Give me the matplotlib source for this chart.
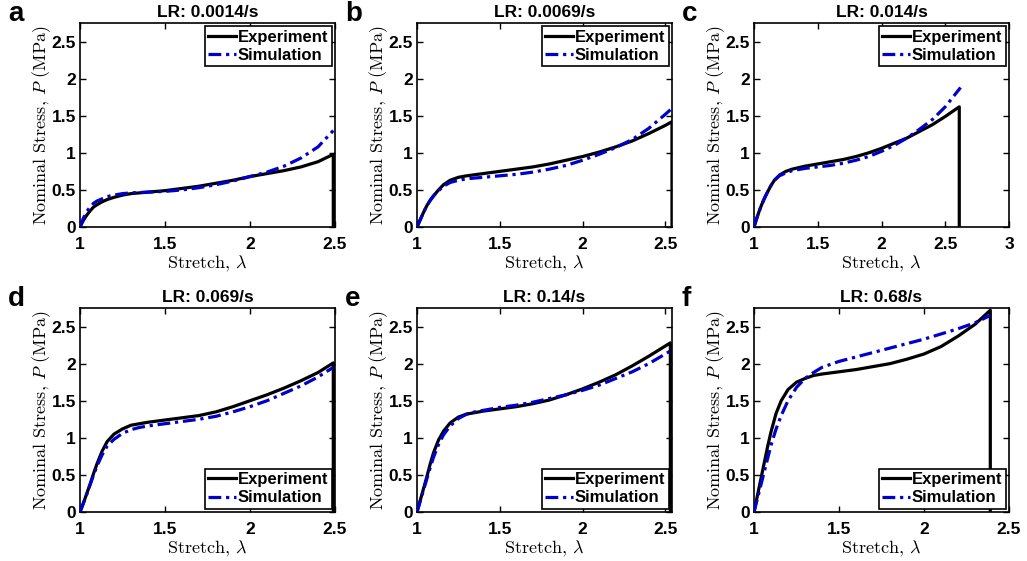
import matplotlib
matplotlib.use('Agg')
import matplotlib.pyplot as plt
import numpy as np

plt.rcParams['font.family'] = ['Liberation Sans', 'DejaVu Sans']
plt.rcParams['font.weight'] = 'bold'
plt.rcParams['mathtext.fontset'] = 'cm'

# panel info
letters = ['a', 'b', 'c', 'd', 'e', 'f']
rates = ['LR: 0.0014/s', 'LR: 0.0069/s', 'LR: 0.014/s', 'LR: 0.069/s', 'LR: 0.14/s', 'LR: 0.68/s']
xmax = [2.5, 2.54, 3.0, 2.5, 2.54, 2.5]
legend_loc = ['upper right'] * 3 + ['lower right'] * 3

# experiment curves (stretch, nominal stress)
exp_a_x = [1.0, 1.02, 1.04, 1.06, 1.08, 1.1, 1.13, 1.16, 1.2, 1.25, 1.3, 1.4, 1.5, 1.6, 1.7, 1.8, 1.9, 2.0, 2.1, 2.2, 2.3, 2.4, 2.49, 2.49]
exp_a_y = [0.0, 0.09, 0.16, 0.22, 0.27, 0.3, 0.34, 0.37, 0.4, 0.43, 0.45, 0.47, 0.49, 0.52, 0.55, 0.59, 0.63, 0.68, 0.72, 0.76, 0.81, 0.88, 0.98, 0.0]
exp_b_x = [1.0, 1.02, 1.04, 1.06, 1.08, 1.1, 1.13, 1.16, 1.2, 1.25, 1.3, 1.4, 1.5, 1.6, 1.7, 1.8, 1.9, 2.0, 2.1, 2.2, 2.3, 2.4, 2.5, 2.54, 2.54]
exp_b_y = [0.0, 0.1, 0.2, 0.29, 0.36, 0.42, 0.5, 0.57, 0.63, 0.67, 0.69, 0.72, 0.75, 0.78, 0.81, 0.85, 0.9, 0.95, 1.01, 1.08, 1.16, 1.26, 1.37, 1.42, 0.0]
exp_c_x = [1.0, 1.02, 1.04, 1.06, 1.08, 1.1, 1.13, 1.16, 1.2, 1.25, 1.3, 1.4, 1.5, 1.6, 1.7, 1.8, 1.9, 2.0, 2.1, 2.2, 2.3, 2.4, 2.5, 2.61, 2.61]
exp_c_y = [0.0, 0.11, 0.21, 0.3, 0.38, 0.45, 0.55, 0.63, 0.7, 0.75, 0.78, 0.82, 0.85, 0.88, 0.91, 0.95, 1.0, 1.06, 1.13, 1.2, 1.29, 1.38, 1.49, 1.62, 0.0]
exp_d_x = [1.0, 1.02, 1.04, 1.06, 1.08, 1.1, 1.13, 1.16, 1.2, 1.25, 1.3, 1.35, 1.4, 1.5, 1.6, 1.7, 1.8, 1.9, 2.0, 2.1, 2.2, 2.3, 2.4, 2.49, 2.49]
exp_d_y = [0.0, 0.12, 0.25, 0.38, 0.52, 0.65, 0.82, 0.95, 1.05, 1.12, 1.17, 1.19, 1.21, 1.24, 1.27, 1.3, 1.35, 1.42, 1.5, 1.58, 1.67, 1.77, 1.88, 2.01, 0.0]
exp_e_x = [1.0, 1.02, 1.04, 1.06, 1.08, 1.1, 1.13, 1.16, 1.2, 1.25, 1.3, 1.35, 1.4, 1.5, 1.6, 1.7, 1.8, 1.9, 2.0, 2.1, 2.2, 2.3, 2.4, 2.53, 2.53]
exp_e_y = [0.0, 0.16, 0.32, 0.48, 0.65, 0.8, 0.97, 1.09, 1.2, 1.28, 1.32, 1.34, 1.36, 1.39, 1.42, 1.46, 1.51, 1.58, 1.66, 1.75, 1.85, 1.97, 2.1, 2.28, 0.0]
exp_f_x = [1.0, 1.02, 1.04, 1.06, 1.08, 1.1, 1.13, 1.16, 1.2, 1.25, 1.3, 1.35, 1.4, 1.5, 1.6, 1.7, 1.8, 1.9, 2.0, 2.1, 2.2, 2.3, 2.39, 2.39]
exp_f_y = [0.0, 0.22, 0.44, 0.66, 0.88, 1.08, 1.33, 1.5, 1.65, 1.75, 1.8, 1.84, 1.86, 1.89, 1.92, 1.96, 2.0, 2.06, 2.13, 2.23, 2.37, 2.53, 2.72, 0.0]

# simulation curves
sim_a_x = [1.0, 1.02, 1.04, 1.06, 1.08, 1.1, 1.13, 1.16, 1.2, 1.25, 1.3, 1.4, 1.5, 1.6, 1.7, 1.8, 1.9, 2.0, 2.1, 2.2, 2.3, 2.4, 2.49]
sim_a_y = [0.0, 0.12, 0.21, 0.27, 0.32, 0.35, 0.38, 0.41, 0.43, 0.45, 0.46, 0.47, 0.48, 0.5, 0.53, 0.57, 0.62, 0.68, 0.74, 0.82, 0.93, 1.08, 1.3]
sim_b_x = [1.0, 1.02, 1.04, 1.06, 1.08, 1.1, 1.13, 1.16, 1.2, 1.25, 1.3, 1.4, 1.5, 1.6, 1.7, 1.8, 1.9, 2.0, 2.1, 2.2, 2.3, 2.4, 2.5, 2.55]
sim_b_y = [0.0, 0.1, 0.2, 0.29, 0.36, 0.42, 0.49, 0.55, 0.6, 0.63, 0.65, 0.67, 0.69, 0.71, 0.74, 0.78, 0.83, 0.9, 0.98, 1.07, 1.18, 1.33, 1.52, 1.62]
sim_c_x = [1.0, 1.02, 1.04, 1.06, 1.08, 1.1, 1.13, 1.16, 1.2, 1.25, 1.3, 1.4, 1.5, 1.6, 1.7, 1.8, 1.9, 2.0, 2.1, 2.2, 2.3, 2.4, 2.5, 2.62]
sim_c_y = [0.0, 0.11, 0.21, 0.3, 0.38, 0.45, 0.55, 0.63, 0.69, 0.73, 0.76, 0.79, 0.81, 0.83, 0.86, 0.9, 0.95, 1.02, 1.1, 1.2, 1.32, 1.45, 1.62, 1.88]
sim_d_x = [1.0, 1.02, 1.04, 1.06, 1.08, 1.1, 1.13, 1.16, 1.2, 1.25, 1.3, 1.35, 1.4, 1.5, 1.6, 1.7, 1.8, 1.9, 2.0, 2.1, 2.2, 2.3, 2.4, 2.49]
sim_d_y = [0.0, 0.12, 0.24, 0.37, 0.5, 0.62, 0.77, 0.89, 0.98, 1.06, 1.11, 1.14, 1.16, 1.19, 1.22, 1.25, 1.29, 1.35, 1.42, 1.5, 1.6, 1.7, 1.82, 1.95]
sim_e_x = [1.0, 1.02, 1.04, 1.06, 1.08, 1.1, 1.13, 1.16, 1.2, 1.25, 1.3, 1.35, 1.4, 1.5, 1.6, 1.7, 1.8, 1.9, 2.0, 2.1, 2.2, 2.3, 2.4, 2.53]
sim_e_y = [0.0, 0.15, 0.3, 0.45, 0.6, 0.74, 0.91, 1.04, 1.16, 1.26, 1.32, 1.35, 1.37, 1.41, 1.44, 1.48, 1.53, 1.58, 1.64, 1.71, 1.8, 1.89, 2.0, 2.17]
sim_f_x = [1.0, 1.02, 1.04, 1.06, 1.08, 1.1, 1.13, 1.16, 1.2, 1.25, 1.3, 1.35, 1.4, 1.5, 1.6, 1.7, 1.8, 1.9, 2.0, 2.1, 2.2, 2.3, 2.39]
sim_f_y = [0.0, 0.18, 0.36, 0.54, 0.72, 0.9, 1.12, 1.3, 1.5, 1.68, 1.8, 1.88, 1.95, 2.03, 2.09, 2.15, 2.21, 2.27, 2.33, 2.4, 2.47, 2.55, 2.65]

exp_x = [exp_a_x, exp_b_x, exp_c_x, exp_d_x, exp_e_x, exp_f_x]
exp_y = [exp_a_y, exp_b_y, exp_c_y, exp_d_y, exp_e_y, exp_f_y]
sim_x = [sim_a_x, sim_b_x, sim_c_x, sim_d_x, sim_e_x, sim_f_x]
sim_y = [sim_a_y, sim_b_y, sim_c_y, sim_d_y, sim_e_y, sim_f_y]

W, H = 1027, 561
fig = plt.figure(figsize=(W / 100, H / 100), dpi=100)

lefts = [80, 417, 754]
tops = [23, 308]
aw, ah = 255, 204

for i in range(6):
    r, c = divmod(i, 3)
    ax = fig.add_axes([lefts[c] / W, 1 - (tops[r] + ah) / H, aw / W, ah / H])
    ax.plot(exp_x[i], exp_y[i], color='black', lw=2.3, label='Experiment', zorder=3)
    ax.plot(sim_x[i], sim_y[i], color='#0000cc', lw=2.3, dashes=(4, 1.5, 1, 1.5), label='Simulation', zorder=4)
    ax.set_xlim(1, xmax[i])
    ax.set_ylim(0, 2.75)
    ax.set_yticks([0, 0.5, 1, 1.5, 2, 2.5])
    ax.set_yticklabels(['0', '0.5', '1', '1.5', '2', '2.5'])
    if xmax[i] == 3.0:
        ax.set_xticks([1, 1.5, 2, 2.5, 3])
        ax.set_xticklabels(['1', '1.5', '2', '2.5', '3'])
    else:
        ax.set_xticks([1, 1.5, 2, 2.5])
        ax.set_xticklabels(['1', '1.5', '2', '2.5'])
    ax.tick_params(direction='in', length=4, width=1, top=True, right=True, labelsize=12.5)
    ax.tick_params(axis='x', pad=7)
    ax.tick_params(axis='y', pad=3)
    for s in ax.spines.values():
        s.set_linewidth(1.2)
    ax.set_xlabel(r'Stretch, $\lambda$', fontname='cmr10', fontweight='normal', fontsize=13, labelpad=1)
    ax.set_ylabel(r'Nominal Stress, $P$ (MPa)', fontname='cmr10', fontweight='normal', fontsize=13, labelpad=-1)
    ax.set_title(rates[i], fontsize=12.5, fontweight='bold', pad=4)
    leg = ax.legend(loc=legend_loc[i], fontsize=12, handlelength=1.7, handletextpad=0.1,
                    borderpad=0.2, labelspacing=0.2, borderaxespad=0.2, fancybox=False,
                    framealpha=1, edgecolor='black')
    leg.get_frame().set_linewidth(1.2)
    fig.text((lefts[c] - 72) / W, 1 - (tops[r] + 4) / H, letters[i], fontsize=20,
             fontweight='bold', ha='left', va='bottom')

fig.savefig('out.png', dpi=100)
